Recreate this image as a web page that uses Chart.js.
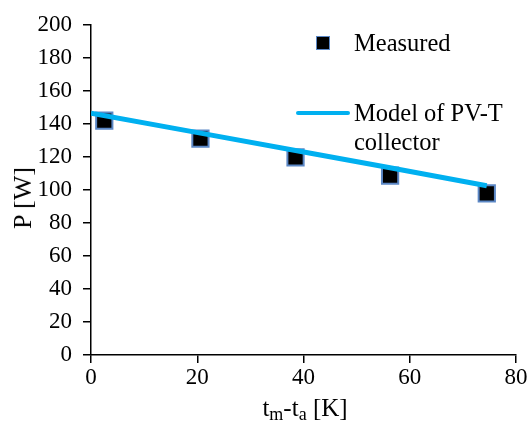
<!DOCTYPE html>
<html>
<head>
<meta charset="utf-8">
<script src="https://cdn.jsdelivr.net/npm/chart.js@4.4.1/dist/chart.umd.min.js"></script>
<style>
  html, body { margin: 0; padding: 0; background: #fff; }
  #wrap { position: relative; width: 531px; height: 423px; font-family: "Times New Roman", "Liberation Serif", Tinos, "DejaVu Serif", serif; color: #000; }
  canvas { position: absolute; left: 0; top: 0; }
  .lbl { position: absolute; white-space: nowrap; line-height: 1; }
  sub { font-size: 0.72em; vertical-align: -0.25em; line-height: 0; }
</style>
</head>
<body>
<div id="wrap">
  <canvas id="c" width="531" height="423"></canvas>
  <div class="lbl" id="ytitle" style="left:23px; top:198px; font-size:26px; transform: translate(-50%,-50%) rotate(-90deg);">P [W]</div>
  <div class="lbl" id="xtitle" style="left:305px; top:407px; font-size:25px; transform: translate(-50%,-50%);">t<sub>m</sub>-t<sub>a</sub> [K]</div>
  <div class="lbl" style="left:316px; top:36px; width:12px; height:12px; background:#000; border:1.5px solid #5b87c5;"></div>
  <div class="lbl" style="left:354px; top:43px; font-size:24.5px; transform: translateY(-50%);">Measured</div>
  <div class="lbl" style="left:296px; top:111px; width:54px; height:4px; background:#00b0f0; border-radius:2px;"></div>
  <div class="lbl" style="left:354px; top:98px; font-size:24.5px; line-height:29px;">Model of PV-T<br>collector</div>
</div>
<script>
// Data
const measuredX = [2.5, 20.6, 38.5, 56.3, 74.5];
const measuredP = [142, 131, 119.7, 108.7, 97.9];
const modelX = [0, 20.6, 38.5, 56.3, 74.5];
const modelP = [146.5, 134.4, 123.9, 113.4, 102.5];
const xTicks = [0, 20, 40, 60, 80];
const yTicks = [0, 20, 40, 60, 80, 100, 120, 140, 160, 180, 200];

const toPts = (xs, ys) => xs.map((x, i) => ({ x: x, y: ys[i] }));

const tickFont = { family: '"Times New Roman", "Liberation Serif", Tinos, "DejaVu Serif", serif', size: 23 };

new Chart(document.getElementById('c'), {
  type: 'scatter',
  data: {
    datasets: [
      {
        label: 'Model of PV-T collector',
        data: toPts(modelX, modelP),
        showLine: true,
        borderColor: '#00b0f0',
        borderWidth: 5,
        pointRadius: 0,
        fill: false,
        tension: 0
      },
      {
        label: 'Measured',
        data: toPts(measuredX, measuredP),
        showLine: false,
        pointStyle: 'rect',
        pointRadius: 11.5,
        backgroundColor: '#000',
        borderColor: '#5b87c5',
        borderWidth: 2
      }
    ]
  },
  options: {
    responsive: false,
    animation: false,
    devicePixelRatio: 1,
    layout: { padding: { left: 0, right: 15, top: 22, bottom: 0 } },
    plugins: { legend: { display: false }, tooltip: { enabled: false } },
    scales: {
      x: {
        type: 'linear',
        min: 0, max: 80,
        afterBuildTicks: s => { s.ticks = xTicks.map(v => ({ value: v })); },
        afterFit: s => { s.height = 68; },
        grid: { drawOnChartArea: false, drawTicks: true, tickLength: 8, color: '#000', lineWidth: 1.5 },
        border: { display: true, color: '#000', width: 1.5 },
        ticks: { color: '#000', font: tickFont, padding: 1, maxRotation: 0, autoSkip: false }
      },
      y: {
        type: 'linear',
        min: 0, max: 200,
        afterBuildTicks: s => { s.ticks = yTicks.map(v => ({ value: v })); },
        afterFit: s => { s.width = 91; },
        grid: { drawOnChartArea: false, drawTicks: true, tickLength: 8, color: '#000', lineWidth: 1.5 },
        border: { display: true, color: '#000', width: 1.5 },
        ticks: { color: '#000', font: tickFont, padding: 11, autoSkip: false }
      }
    }
  }
});
</script>
</body>
</html>
